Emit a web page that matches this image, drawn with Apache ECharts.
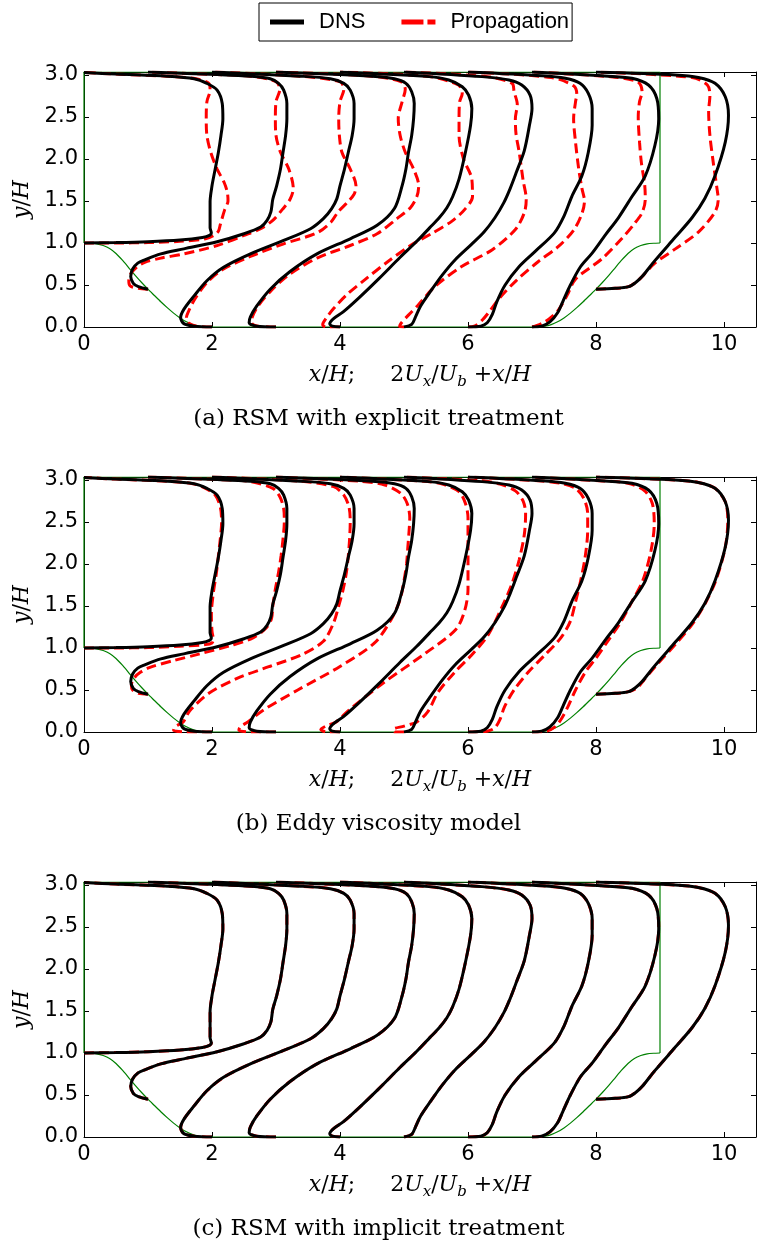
<!DOCTYPE html>
<html><head><meta charset="utf-8">
<script src="https://cdn.jsdelivr.net/npm/echarts@6/dist/echarts.min.js"></script>
<style>html,body{margin:0;padding:0;background:#fff}#c{width:757px;height:1247px}</style>
</head><body><div id="c"></div>
<script>
// ---------- tick labels ----------
const xTickLabels = ['0','2','4','6','8','10'];
const yTickLabels = ['0.0','0.5','1.0','1.5','2.0','2.5','3.0'];
const panelCaptions = ['(a) RSM with explicit treatment','(b) Eddy viscosity model','(c) RSM with implicit treatment'];

// ---------- geometry (x/H, y/H) ----------
const hillLower = [[0,1.0],[0.1,0.997],[0.2,0.99],[0.3,0.97],[0.4,0.935],[0.5,0.875],[0.6,0.795],[0.7,0.705],[0.8,0.615],[0.9,0.53],[1.0,0.45],[1.1,0.375],[1.2,0.3],[1.3,0.23],[1.4,0.165],[1.5,0.108],[1.6,0.062],[1.7,0.029],[1.8,0.009],[1.9,0.001],[1.93,0],
  [7.07,0],[7.1,0.001],[7.2,0.009],[7.3,0.029],[7.4,0.062],[7.5,0.108],[7.6,0.165],[7.7,0.23],[7.8,0.3],[7.9,0.375],[8.0,0.45],[8.1,0.53],[8.2,0.615],[8.3,0.705],[8.4,0.795],[8.5,0.875],[8.6,0.935],[8.7,0.97],[8.8,0.99],[8.9,0.997],[9.0,1.0]];
const wallUpper = [[0,1.0],[0,3.035],[9,3.035],[9,1.0]];

// ---------- DNS profiles: 2Ux/Ub + x/H vs y/H ----------
const dns0 = [[0,1.0],[0.5,1.005],[1.0,1.015],[1.5,1.035],[1.85,1.065],[1.96,1.09],[1.99,1.12],[1.97,1.18],[1.97,1.3],[1.97,1.49],[2.0,1.68],[2.05,1.88],[2.10,2.08],[2.14,2.28],[2.17,2.48],[2.16,2.66],[2.08,2.82],[1.92,2.9],[1.72,2.955],[1.3,2.985],[0.5,3.01],[0,3.03]];
const dns1 = [[1.0,0.45],[0.85,0.48],[0.77,0.52],[0.73,0.6],[0.76,0.69],[0.84,0.76],[0.95,0.8],[1.2,0.87],[1.56,0.93],[2.08,1.015],[2.5,1.11],[2.76,1.19],[2.86,1.27],[2.92,1.37],[2.95,1.52],[3.01,1.68],[3.07,1.88],[3.11,2.08],[3.15,2.28],[3.17,2.48],[3.17,2.66],[3.12,2.82],[3.04,2.9],[2.91,2.955],[2.6,2.985],[2.08,3.005],[1.0,3.035]];
const dns2 = [[2.0,0],[1.72,0.01],[1.56,0.04],[1.51,0.11],[1.56,0.21],[1.72,0.37],[1.92,0.55],[2.18,0.71],[2.6,0.87],[3.12,1.03],[3.54,1.17],[3.74,1.29],[3.87,1.41],[3.95,1.525],[4.0,1.68],[4.07,1.88],[4.13,2.08],[4.19,2.28],[4.22,2.48],[4.22,2.66],[4.16,2.82],[4.06,2.9],[3.85,2.955],[3.38,2.985],[2.0,3.035]];
const dns3 = [[3.0,0],[2.7,0.01],[2.58,0.05],[2.6,0.12],[2.7,0.25],[2.91,0.45],[3.22,0.66],[3.64,0.87],[4.16,1.05],[4.58,1.21],[4.85,1.41],[4.97,1.68],[5.03,1.88],[5.07,2.08],[5.12,2.28],[5.15,2.48],[5.16,2.66],[5.12,2.8],[5.03,2.9],[4.85,2.955],[4.5,2.985],[3.0,3.035]];
const dns4 = [[4.0,0],[3.88,0.01],[3.84,0.04],[3.9,0.1],[4.05,0.18],[4.3,0.35],[4.6,0.57],[4.94,0.83],[5.2,1.02],[5.4,1.18],[5.55,1.3],[5.67,1.42],[5.76,1.55],[5.86,1.76],[5.96,2.08],[6.04,2.4],[6.06,2.6],[6.01,2.76],[5.91,2.86],[5.7,2.94],[5.39,2.98],[4.0,3.035]];
const dns5 = [[5.0,0],[5.12,0.03],[5.18,0.12],[5.26,0.25],[5.42,0.43],[5.6,0.62],[5.8,0.8],[6.05,0.98],[6.25,1.13],[6.42,1.3],[6.56,1.48],[6.66,1.65],[6.76,1.85],[6.88,2.1],[6.96,2.4],[7.0,2.6],[6.97,2.76],[6.84,2.88],[6.64,2.94],[6.22,2.98],[5.0,3.035]];
const dns6 = [[6.0,0],[6.2,0.01],[6.3,0.05],[6.38,0.15],[6.45,0.3],[6.58,0.5],[6.8,0.72],[7.05,0.9],[7.35,1.12],[7.5,1.32],[7.62,1.55],[7.78,1.8],[7.88,2.08],[7.94,2.4],[7.94,2.6],[7.88,2.78],[7.75,2.9],[7.52,2.96],[7.16,2.99],[6.0,3.035]];
const dns7 = [[7.0,0],[7.15,0.01],[7.28,0.06],[7.4,0.17],[7.48,0.3],[7.6,0.5],[7.76,0.72],[7.94,0.88],[8.15,1.1],[8.35,1.3],[8.56,1.55],[8.77,1.8],[8.92,2.16],[8.98,2.48],[8.95,2.72],[8.82,2.88],[8.56,2.96],[8.09,2.99],[7.0,3.035]];
const dns8 = [[8.0,0.45],[8.3,0.46],[8.51,0.48],[8.62,0.53],[8.72,0.6],[8.92,0.79],[9.24,1.07],[9.5,1.3],[9.7,1.53],[9.86,1.8],[10.02,2.2],[10.07,2.52],[10.02,2.74],[9.86,2.9],[9.6,2.97],[9.24,3.0],[8.0,3.035]];

// ---------- Propagation, (a) RSM explicit ----------
const redA0 = [[0,1.0],[0.5,1.0],[1.0,1.005],[1.5,1.02],[1.9,1.05],[2.03,1.09],[2.1,1.14],[2.13,1.22],[2.2,1.4],[2.25,1.5],[2.24,1.6],[2.19,1.72],[2.08,1.88],[1.98,2.08],[1.92,2.28],[1.91,2.48],[1.92,2.68],[1.97,2.82],[1.95,2.9],[1.75,2.955],[1.3,2.985],[0.5,3.01],[0,3.03]];
const redA1 = [[1.0,0.45],[0.85,0.46],[0.72,0.49],[0.7,0.55],[0.73,0.63],[0.82,0.71],[0.95,0.77],[1.2,0.82],[1.56,0.87],[2.08,0.97],[2.5,1.09],[2.76,1.17],[2.95,1.27],[3.1,1.4],[3.22,1.52],[3.27,1.65],[3.2,1.88],[3.07,2.08],[3.0,2.28],[2.99,2.48],[3.0,2.68],[3.06,2.83],[3.0,2.92],[2.6,2.985],[2.08,3.005],[1.0,3.035]];
const redA2 = [[2.0,0],[1.76,0.01],[1.63,0.05],[1.6,0.11],[1.63,0.18],[1.73,0.33],[1.92,0.53],[2.18,0.69],[2.6,0.84],[3.12,0.99],[3.64,1.12],[3.86,1.25],[3.97,1.37],[4.11,1.48],[4.22,1.58],[4.25,1.68],[4.16,1.88],[4.03,2.08],[3.99,2.28],[3.98,2.48],[4.0,2.68],[4.06,2.83],[4.0,2.92],[3.38,2.985],[2.0,3.035]];
const redA3 = [[3.0,0],[2.72,0.01],[2.62,0.05],[2.63,0.12],[2.72,0.25],[2.92,0.43],[3.2,0.62],[3.64,0.82],[4.16,0.97],[4.58,1.11],[4.89,1.29],[5.1,1.42],[5.2,1.55],[5.23,1.68],[5.15,1.88],[5.02,2.08],[4.94,2.28],[4.91,2.48],[4.97,2.68],[5.02,2.83],[4.95,2.92],[4.5,2.985],[3.0,3.035]];
const redA4 = [[4.0,0],[3.78,0.0],[3.73,0.03],[3.78,0.1],[3.9,0.22],[4.1,0.38],[4.4,0.57],[4.75,0.78],[5.1,0.97],[5.45,1.12],[5.75,1.26],[5.95,1.4],[6.07,1.55],[6.06,1.76],[5.93,2.0],[5.86,2.28],[5.86,2.48],[5.87,2.68],[5.91,2.78],[5.85,2.88],[5.4,2.98],[4.0,3.035]];
const redA5 = [[5.0,0],[4.93,0.005],[4.96,0.05],[5.08,0.15],[5.22,0.26],[5.48,0.48],[5.9,0.72],[6.38,0.92],[6.74,1.16],[6.88,1.36],[6.91,1.52],[6.86,1.75],[6.8,2.08],[6.75,2.3],[6.74,2.48],[6.77,2.65],[6.72,2.8],[6.69,2.9],[6.3,2.98],[5.0,3.035]];
const redA6 = [[6.0,0],[6.1,0.01],[6.22,0.08],[6.35,0.2],[6.5,0.35],[6.75,0.55],[7.1,0.78],[7.4,0.95],[7.65,1.15],[7.78,1.35],[7.82,1.5],[7.78,1.65],[7.73,1.88],[7.68,2.2],[7.65,2.48],[7.68,2.68],[7.7,2.77],[7.65,2.87],[7.3,2.97],[6.0,3.035]];
const redA7 = [[7.0,0],[7.05,0.01],[7.2,0.06],[7.32,0.13],[7.42,0.21],[7.55,0.38],[7.68,0.57],[8.09,0.81],[8.4,1.05],[8.6,1.23],[8.72,1.36],[8.77,1.52],[8.76,1.7],[8.71,1.95],[8.68,2.2],[8.66,2.5],[8.68,2.68],[8.72,2.8],[8.65,2.92],[8.2,2.98],[7.0,3.035]];
const redA8 = [[8.0,0.45],[8.3,0.46],[8.51,0.48],[8.62,0.53],[8.72,0.6],[8.92,0.76],[9.24,0.93],[9.6,1.13],[9.86,1.37],[9.91,1.52],[9.89,1.65],[9.83,1.97],[9.78,2.28],[9.76,2.56],[9.78,2.76],[9.74,2.88],[9.5,2.97],[8.0,3.035]];

// ---------- Propagation, (b) eddy viscosity ----------
const redB0 = [[0,1.0],[0.5,1.0],[1.0,1.005],[1.5,1.02],[1.9,1.04],[2.0,1.06],[2.02,1.1],[2.0,1.2],[1.99,1.4],[2.02,1.65],[2.07,1.9],[2.1,2.1],[2.13,2.3],[2.15,2.5],[2.13,2.68],[2.05,2.82],[1.9,2.9],[1.7,2.955],[1.3,2.985],[0.5,3.01],[0,3.03]];
const redB1 = [[1.0,0.45],[0.85,0.46],[0.76,0.5],[0.74,0.56],[0.78,0.64],[0.88,0.71],[1.03,0.77],[1.4,0.85],[1.81,0.93],[2.3,1.03],[2.64,1.12],[2.85,1.24],[2.93,1.35],[2.95,1.5],[2.99,1.7],[3.04,1.9],[3.08,2.1],[3.11,2.3],[3.13,2.5],[3.12,2.66],[3.06,2.8],[2.95,2.9],[2.6,2.98],[2.08,3.005],[1.0,3.035]];
const redB2 = [[2.0,0],[1.6,0.0],[1.4,0.02],[1.42,0.06],[1.55,0.12],[1.65,0.25],[1.95,0.46],[2.4,0.64],[2.9,0.78],[3.4,0.92],[3.74,1.08],[3.9,1.3],[3.98,1.5],[4.05,1.7],[4.1,1.9],[4.13,2.1],[4.15,2.3],[4.16,2.5],[4.14,2.68],[4.06,2.82],[3.9,2.92],[3.38,2.985],[2.0,3.035]];
const redB3 = [[3.0,0],[2.6,0.0],[2.42,0.02],[2.44,0.06],[2.56,0.12],[2.8,0.26],[3.34,0.5],[4.0,0.78],[4.54,1.06],[4.8,1.34],[4.94,1.58],[5.0,1.8],[5.04,2.0],[5.06,2.2],[5.08,2.4],[5.09,2.55],[5.05,2.72],[4.95,2.84],[4.7,2.94],[4.3,2.985],[3.0,3.035]];
const redB4 = [[4.0,0],[3.8,0.0],[3.7,0.03],[3.78,0.07],[3.94,0.12],[4.14,0.26],[4.67,0.58],[5.34,0.94],[5.81,1.22],[5.95,1.45],[6.0,1.7],[6.0,2.0],[6.0,2.3],[6.0,2.55],[5.96,2.72],[5.86,2.86],[5.6,2.95],[5.3,2.985],[4.0,3.035]];
const redB5 = [[5.0,0],[4.85,0.0],[4.83,0.03],[5.0,0.07],[5.2,0.12],[5.37,0.24],[5.53,0.47],[5.79,0.71],[6.05,0.91],[6.31,1.15],[6.52,1.47],[6.68,1.75],[6.8,2.05],[6.88,2.35],[6.9,2.6],[6.86,2.75],[6.74,2.87],[6.5,2.95],[6.2,2.99],[5.0,3.035]];
const redB6 = [[6.0,0],[6.3,0.01],[6.42,0.05],[6.5,0.15],[6.57,0.3],[6.72,0.5],[6.95,0.72],[7.18,0.9],[7.45,1.12],[7.6,1.32],[7.68,1.55],[7.76,1.8],[7.83,2.08],[7.87,2.4],[7.87,2.6],[7.81,2.78],[7.68,2.9],[7.45,2.96],[7.1,2.99],[6.0,3.035]];
const redB7 = [[7.0,0],[7.22,0.01],[7.36,0.06],[7.47,0.17],[7.56,0.3],[7.68,0.5],[7.84,0.72],[8.0,0.88],[8.2,1.1],[8.38,1.3],[8.56,1.55],[8.73,1.8],[8.86,2.16],[8.91,2.48],[8.88,2.72],[8.76,2.87],[8.5,2.96],[8.05,2.99],[7.0,3.035]];
const redB8 = [[8.0,0.45],[8.3,0.46],[8.51,0.48],[8.65,0.53],[8.75,0.62],[8.95,0.8],[9.26,1.06],[9.52,1.3],[9.72,1.55],[9.88,1.82],[10.02,2.2],[10.06,2.52],[10.02,2.74],[9.86,2.9],[9.6,2.97],[9.24,3.0],[8.0,3.035]];

// ---------- Propagation, (c) RSM implicit: coincides with DNS ----------
const redC0 = dns0, redC1 = dns1, redC2 = dns2, redC3 = dns3, redC4 = dns4, redC5 = dns5, redC6 = dns6, redC7 = dns7, redC8 = dns8;

const dnsSet = [dns0,dns1,dns2,dns3,dns4,dns5,dns6,dns7,dns8];
const redSets = [
  [redA0,redA1,redA2,redA3,redA4,redA5,redA6,redA7,redA8],
  [redB0,redB1,redB2,redB3,redB4,redB5,redB6,redB7,redB8],
  [redC0,redC1,redC2,redC3,redC4,redC5,redC6,redC7,redC8]
];

// ---------- layout ----------
const gridTops = [72, 477, 882];
const gridH = 255;
const gridLeft = 84, gridW = 672;
const XMAX = 10.5, YMAX = 3.035;

const mathRich = {
  i: {fontFamily: 'DejaVu Serif', fontStyle: 'italic', fontSize: 22, lineHeight: 30, verticalAlign: 'middle', color: '#000'},
  r: {fontFamily: 'DejaVu Serif', fontSize: 22, lineHeight: 30, verticalAlign: 'middle', color: '#000'},
  s: {fontFamily: 'DejaVu Serif', fontStyle: 'italic', fontSize: 15, lineHeight: 15, verticalAlign: 'bottom', color: '#000'}
};

const fmtX = v => { const i = Math.round(v / 2); return (Math.abs(v - 2 * i) < 1e-9 && i < xTickLabels.length) ? xTickLabels[i] : ''; };
const fmtY = v => { const i = Math.round(v / 0.5); return (Math.abs(v - 0.5 * i) < 1e-9 && i < yTickLabels.length) ? yTickLabels[i] : ''; };

const grid = [], xAxis = [], yAxis = [], series = [], title = [];
const tickStyle = {show: true, inside: true, length: 5, lineStyle: {color: '#000', width: 1}};
const lineStyle = {show: true, onZero: false, lineStyle: {color: '#000', width: 1}};

gridTops.forEach((top, p) => {
  grid.push({left: gridLeft, top: top, width: gridW, height: gridH, containLabel: false, outerBoundsMode: 'none'});
  xAxis.push({
    type: 'value', gridIndex: p, position: 'bottom', min: 0, max: XMAX, interval: 2,
    axisLine: lineStyle, axisTick: tickStyle, splitLine: {show: false},
    axisLabel: {formatter: fmtX, margin: 7, fontFamily: 'DejaVu Sans', fontSize: 21, color: '#000', showMaxLabel: false},
    name: '{i|x}{r|/}{i|H}{r|;     2}{i|U}{s|x}{r|/}{i|U}{s|b}{r| +}{i|x}{r|/}{i|H}',
    nameLocation: 'middle', nameGap: 33,
    nameTextStyle: {rich: mathRich}
  });
  xAxis.push({
    type: 'value', gridIndex: p, position: 'top', min: 0, max: XMAX, interval: 2,
    axisLine: lineStyle, axisTick: tickStyle, splitLine: {show: false}, axisLabel: {show: false}
  });
  yAxis.push({
    type: 'value', gridIndex: p, position: 'left', min: 0, max: YMAX, interval: 0.5,
    axisLine: lineStyle, axisTick: tickStyle, splitLine: {show: false},
    axisLabel: {formatter: fmtY, margin: 6, fontFamily: 'DejaVu Sans', fontSize: 21, color: '#000', showMaxLabel: false},
    name: '{i|y}{r|/}{i|H}', nameLocation: 'middle', nameGap: 44,
    nameTextStyle: {rich: mathRich}
  });
  yAxis.push({
    type: 'value', gridIndex: p, position: 'right', min: 0, max: YMAX, interval: 0.5,
    axisLine: lineStyle, axisTick: tickStyle, splitLine: {show: false}, axisLabel: {show: false}
  });
  title.push({
    text: panelCaptions[p], left: 'center', top: top + gridH + 81, padding: 0,
    textStyle: {fontFamily: 'DejaVu Serif', fontWeight: 'normal', fontSize: 23, color: '#000'}
  });
  const ax = {xAxisIndex: 2 * p, yAxisIndex: 2 * p};
  series.push(Object.assign({type: 'line', name: 'geometry', data: wallUpper, showSymbol: false, symbol: 'none',
    lineStyle: {color: '#008000', width: 1.2}, silent: true, z: 1}, ax));
  series.push(Object.assign({type: 'line', name: 'geometry', data: hillLower, showSymbol: false, symbol: 'none', smooth: 0.2,
    lineStyle: {color: '#008000', width: 1.2}, silent: true, z: 1}, ax));
  redSets[p].forEach(d => series.push(Object.assign({type: 'line', name: 'Propagation', data: d, symbol: 'none', smooth: 0.3,
    itemStyle: {color: '#ff0000'}, lineStyle: {color: '#ff0000', width: 3, type: [10, 5]}, z: 2}, ax)));
  dnsSet.forEach(d => series.push(Object.assign({type: 'line', name: 'DNS', data: d, symbol: 'none', smooth: 0.3,
    itemStyle: {color: '#000'}, lineStyle: {color: '#000', width: 3}, z: 3}, ax)));
});

const chart = echarts.init(document.getElementById('c'), null, {renderer: 'canvas'});
chart.setOption({
  animation: false,
  backgroundColor: '#fff',
  title: title,
  legend: {
    data: [
      {name: 'DNS', icon: 'rect', itemStyle: {color: '#000', borderWidth: 0}},
      {name: 'Propagation', icon: 'path://M0,0h22v4h-22z M26,0h8v4h-8z', itemStyle: {color: '#ff0000', borderWidth: 0}}
    ],
    left: 259, top: 3, orient: 'horizontal', symbolKeepAspect: false,
    borderColor: '#000', borderWidth: 1, padding: [8, 3, 8, 11], itemGap: 36,
    itemWidth: 34, itemHeight: 5,
    textStyle: {fontFamily: 'Liberation Sans', fontSize: 22, color: '#000', padding: [0, 0, 0, 10]}
  },
  grid: grid, xAxis: xAxis, yAxis: yAxis, series: series
});
</script></body></html>
